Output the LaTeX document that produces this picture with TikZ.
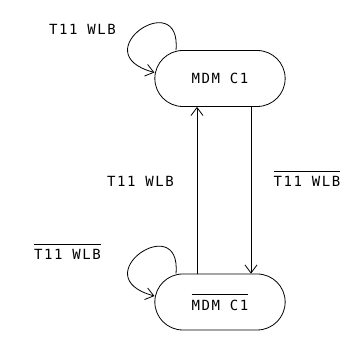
\documentclass[tikz,border=0pt]{standalone}
\usepackage{amsmath}
\usepackage{fontspec}
\setmainfont{DejaVu Sans Mono}[LetterSpace=11]
\usetikzlibrary{arrows.meta,shapes.misc}

\newcommand{\negsig}[1]{$\overline{\mbox{\rule{0pt}{13.5pt}#1}}$}

\begin{document}
\begin{tikzpicture}[
                x=1pt, y=1pt,
                line width=0.8pt,
                state/.style={
                    draw,
                    rounded rectangle,
                    minimum width=137pt,
                    minimum height=56pt,
                    font=\fontsize{14}{16}\selectfont
                },
                lbl/.style={anchor=base, font=\fontsize{14}{16}\selectfont},
                arrow/.style={-{Straight Barb[length=8pt,width=12pt]}}
            ]
                \useasboundingbox (0,0) rectangle (360,339);

                \node[state] (mdm) at (220,260.5) {MDM C1};
                \node[state] (nmdm) at (220,37) {\negsig{MDM C1}};

                \node[lbl] (selfa) at (82.5,304) {T11 WLB};
                \node[lbl] (upl) at (140.5,152) {T11 WLB};
                \node[lbl] (downl) at (307,152) {\negsig{T11 WLB}};
                \node[lbl] (selfb) at (67.5,79) {\negsig{T11 WLB}};

                \draw[arrow] ([xshift=-23pt]nmdm.north) -- ([xshift=-23pt]mdm.south);
                \draw[arrow] ([xshift=31pt]mdm.south) -- ([xshift=31pt]nmdm.north);
                \draw[arrow] ([xshift=-44pt]mdm.north) .. controls +(85:65) and +(165:75) .. ([yshift=6pt]mdm.west);
                \draw[arrow] ([xshift=-44pt]nmdm.north) .. controls +(85:65) and +(165:75) .. ([yshift=6pt]nmdm.west);
            \end{tikzpicture}
\end{document}
